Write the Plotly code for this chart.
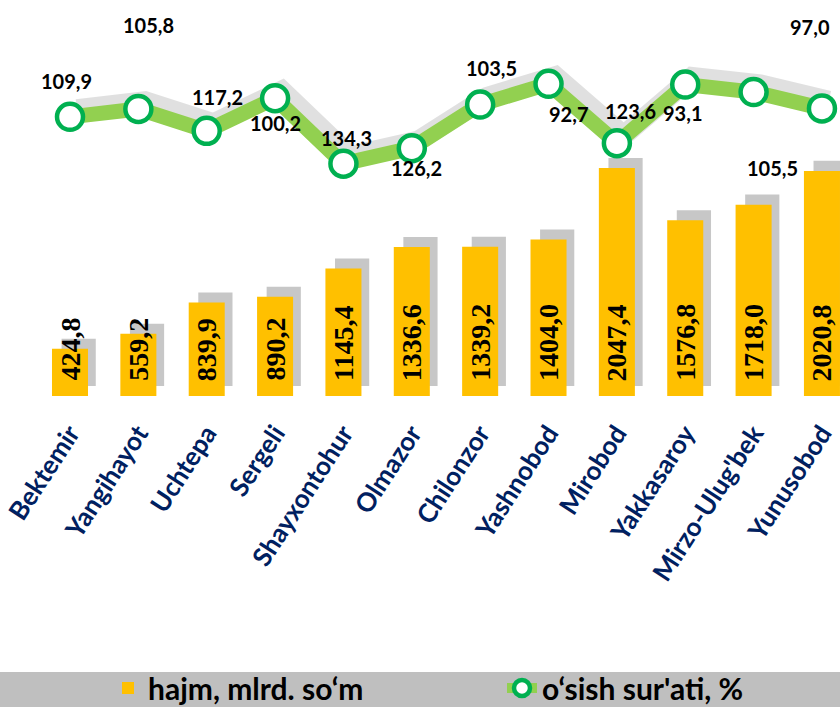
import plotly.graph_objects as go

districts = ["Bektemir", "Yangihayot", "Uchtepa", "Sergeli", "Shayxontohur", "Olmazor",
             "Chilonzor", "Yashnobod", "Mirobod", "Yakkasaroy", "Mirzo-Ulug'bek", "Yunusobod"]
volume = [424.8, 559.2, 839.9, 890.2, 1145.4, 1336.6, 1339.2, 1404.0, 2047.4, 1576.8, 1718.0, 2020.8]
growth = [109.9, 105.8, 117.2, 100.2, 134.3, 126.2, 103.5, 92.7, 123.6, 93.1, 97.0, 105.5]

# label placement offsets (px) for growth labels
label_dx = [-4, 10, 11, 0, 3, 5, 11, 20, 14, -3, 56, -49]
label_dy = [36, 84, 34, -25, 26, -20, 37, -30, 32, -28, 65, -60]

series_names = ["hajm, mlrd. so‘m", "o‘sish sur'ati, %"]

def fmt(v):
    return f"{v:.1f}".replace(".", ",")

x = list(range(len(districts)))
BAR_W = 0.527

fig = go.Figure()

# bar shadow
fig.add_trace(go.Bar(
    x=x, y=volume, base=90, width=BAR_W * 0.95, offset=-BAR_W / 2 + 0.14,
    marker=dict(color="rgba(0,0,0,0.22)", line=dict(width=0)),
    showlegend=False, hoverinfo="skip"))

fig.add_trace(go.Bar(
    x=x, y=volume, width=BAR_W, offset=-BAR_W / 2,
    marker=dict(color="#FFC000", line=dict(width=0)),
    name=series_names[0], legend="legend"))

# line shadow
fig.add_trace(go.Scatter(
    x=[i + 0.1 for i in x], y=[g - 4.0 for g in growth], yaxis="y2",
    mode="lines", line=dict(color="rgba(0,0,0,0.12)", width=20),
    showlegend=False, hoverinfo="skip"))

fig.add_trace(go.Scatter(
    x=x, y=growth, yaxis="y2", mode="lines+markers",
    line=dict(color="#92D050", width=15),
    marker=dict(size=26, color="white", line=dict(color="#00B050", width=4.5)),
    name=series_names[1], legend="legend2"))

annotations = []
for i, v in enumerate(volume):
    annotations.append(dict(
        x=i, y=0, xref="x", yref="y", text=fmt(v), showarrow=False,
        textangle=-90, yanchor="bottom", xanchor="center", yshift=13,
        font=dict(family="Liberation Serif", size=28, color="black", weight="bold")))
for i, g in enumerate(growth):
    annotations.append(dict(
        x=i, y=g, xref="x", yref="y2", text="<b>" + fmt(g) + "</b>", showarrow=False,
        xshift=label_dx[i], yshift=label_dy[i],
        font=dict(family="Lato", size=20, color="black")))

legend_font = dict(family="Lato", size=30, color="black", weight="bold")
fig.update_layout(
    width=840, height=707,
    margin=dict(l=0, r=0, t=0, b=311, autoexpand=False),
    paper_bgcolor="white", plot_bgcolor="white",
    barmode="overlay",
    xaxis=dict(range=[-1.024, 11.264], tickvals=x, ticktext=districts, tickangle=-57,
               showgrid=False, zeroline=False, showline=False, ticks="",
               automargin=False, ticklabelstandoff=16, ticklabeloverflow="allow",
               tickfont=dict(family="Lato", size=26, color="#002060", weight="bold")),
    yaxis=dict(range=[0, 3555], visible=False, fixedrange=True),
    yaxis2=dict(range=[255.3, 49.05], overlaying="y", visible=False),
    annotations=annotations,
    shapes=[dict(type="rect", xref="paper", yref="paper", x0=0, x1=1,
                 y0=(396 - 707) / 396, y1=(396 - 672) / 396,
                 fillcolor="#BFBFBF", line=dict(width=0), layer="below")],
    legend=dict(orientation="h", x=108 / 840, xanchor="left", y=(396 - 688) / 396,
                yanchor="middle", bgcolor="rgba(0,0,0,0)", font=legend_font),
    legend2=dict(orientation="h", x=502 / 840, xanchor="left", y=(396 - 688) / 396,
                 yanchor="middle", bgcolor="rgba(0,0,0,0)", font=legend_font),
    showlegend=True,
)

fig.write_html("out.html", config={"displayModeBar": False},
               post_script="document.body.style.margin='0';document.body.style.overflow='hidden';")
